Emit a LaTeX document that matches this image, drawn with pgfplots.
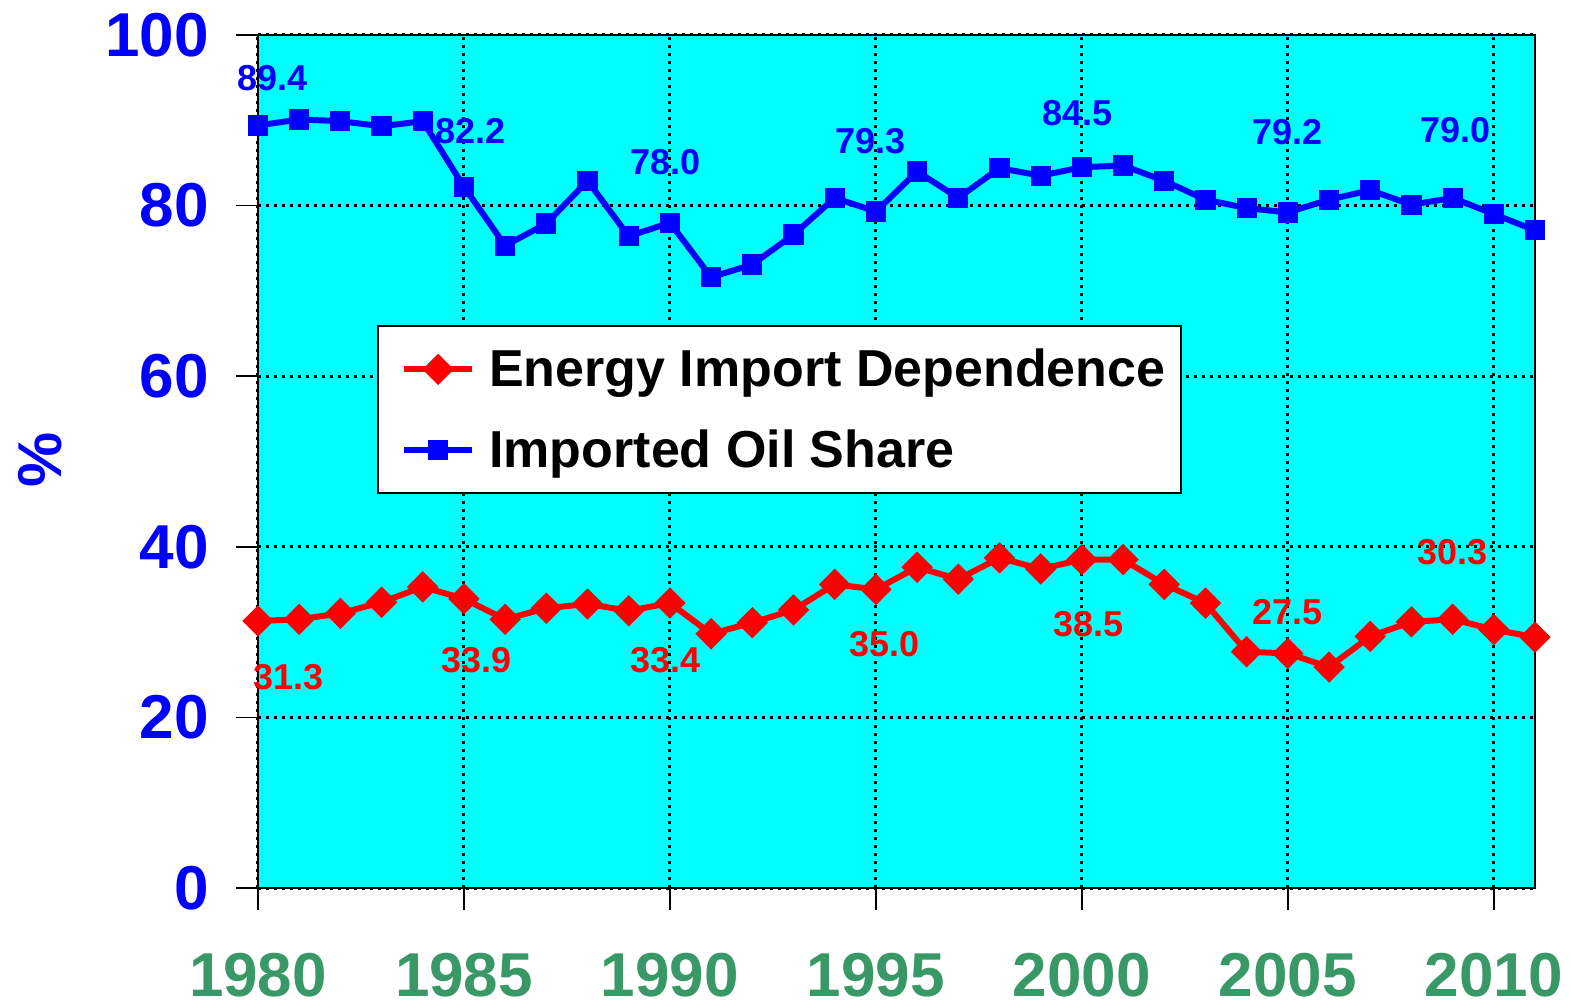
\documentclass[border=0pt]{standalone}
\usepackage{fontspec}
\setmainfont{Liberation Sans}
\usepackage{pgfplots}
\pgfplotsset{compat=1.18}
\definecolor{xgreen}{RGB}{56,153,102}
\definecolor{bgcyan}{RGB}{0,255,255}
\pgfplotstableread{
year dep oil
1980 31.3 89.4
1981 31.5 90.1
1982 32.2 89.9
1983 33.5 89.3
1984 35.3 89.9
1985 33.9 82.2
1986 31.5 75.3
1987 32.8 77.9
1988 33.3 82.9
1989 32.5 76.4
1990 33.4 78.0
1991 29.8 71.6
1992 31.1 73.1
1993 32.6 76.6
1994 35.6 80.9
1995 35.0 79.3
1996 37.6 84.0
1997 36.2 80.9
1998 38.7 84.4
1999 37.4 83.5
2000 38.5 84.5
2001 38.5 84.7
2002 35.6 82.9
2003 33.4 80.7
2004 27.7 79.7
2005 27.5 79.2
2006 25.9 80.7
2007 29.5 81.8
2008 31.2 80.1
2009 31.5 80.9
2010 30.3 79.0
2011 29.4 77.1
}\datatable
\begin{document}
\begin{tikzpicture}
\begin{axis}[
  scale only axis, width=638.5pt, height=426.5pt,
  xmin=1980, xmax=2011, ymin=0, ymax=100,
  xtick={1980,1985,1990,1995,2000,2005,2010},
  xticklabels={1980,1985,1990,1995,2000,2005,2010},
  ytick={0,20,40,60,80,100},
  /pgf/number format/assume math mode=true,
  xtick pos=bottom, ytick pos=left,
  tick align=outside, major tick length=11pt,
  axis background/.style={fill=bgcyan},
  grid=major,
  major grid style={black, line width=1.5pt, dash pattern=on 1.5pt off 2.5pt},
  axis line style={black, line width=1.2pt},
  every tick/.style={black, line width=0.8pt},
  xticklabel style={font=\fontsize{31}{31}\selectfont\bfseries, text=xgreen, yshift=-18pt},
  yticklabel style={font=\fontsize{31}{31}\selectfont\bfseries, text=blue, xshift=-10pt},
  ylabel={\%},
  ylabel style={font=\fontsize{31}{31}\selectfont\bfseries, text=blue, at={(axis description cs:-0.1707,0.502)}, anchor=center},
  legend style={at={(rel axis cs:0.0932,0.66)}, anchor=north west, draw=black, line width=1pt, fill=white,
    font=\fontsize{26}{30}\selectfont\bfseries, row sep=16pt, inner xsep=4pt, inner ysep=9.5pt,
    nodes={inner xsep=4pt}},
  legend cell align=left,
  legend image code/.code={\path[draw=none] (-9pt,0pt) -- (1.2cm+4.5pt,0pt);\draw[mark repeat=2,mark phase=2] plot coordinates {(0cm,0cm)(0.6cm,0cm)(1.2cm,0cm)};},
  clip=false,
]
\addplot[red, line width=3pt, mark=square*, mark size=5.3pt, mark options={solid, rotate=45, line width=0.5pt}] table[x=year, y=dep] {\datatable};
\addlegendentry{Energy Import Dependence}
\addplot[blue, line width=3pt, mark=square*, mark size=4.8pt, mark options={solid, line width=0.5pt}] table[x=year, y=oil] {\datatable};
\addlegendentry{Imported Oil Share}

\begin{scope}[every node/.style={font=\fontsize{18}{18}\selectfont\bfseries, text=blue, inner sep=0pt}]
\node at (axis cs:1980.36,95.0) {89.4};
\node at (axis cs:1985.17,88.7) {82.2};
\node at (axis cs:1989.9,85.1) {78.0};
\node at (axis cs:1994.87,87.6) {79.3};
\node at (axis cs:1999.9,90.9) {84.5};
\node at (axis cs:2005.0,88.6) {79.2};
\node at (axis cs:2009.07,88.9) {79.0};
\end{scope}
\begin{scope}[every node/.style={font=\fontsize{18}{18}\selectfont\bfseries, text=red, inner sep=0pt}]
\node at (axis cs:1980.75,24.7) {31.3};
\node at (axis cs:1985.3,26.7) {33.9};
\node at (axis cs:1989.9,26.7) {33.4};
\node at (axis cs:1995.2,28.6) {35.0};
\node at (axis cs:2000.16,30.9) {38.5};
\node at (axis cs:2005.0,32.4) {27.5};
\node at (axis cs:2009.0,39.4) {30.3};
\end{scope}
\coordinate (o) at (rel axis cs:0,0);
\end{axis}
\pgfresetboundingbox
\path (o) ++(-129pt,-60pt) rectangle ++(785.5pt,504pt);
\end{tikzpicture}
\end{document}
